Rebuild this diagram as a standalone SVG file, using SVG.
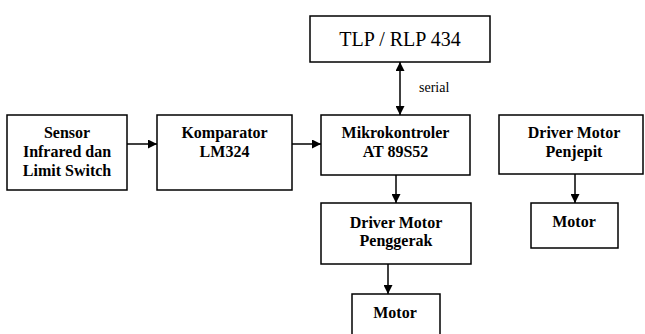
<svg xmlns="http://www.w3.org/2000/svg" width="645" height="334" viewBox="0 0 645 334">
<style>
.box{fill:#fff;stroke:#000;stroke-width:1.5}
text{font-family:'Liberation Serif','Times New Roman',Times,serif;fill:#000}
.t{font-weight:bold;font-size:16px;text-anchor:middle}
.n{font-size:20px;text-anchor:middle}
.s{font-size:14px}
.c{stroke:#000;stroke-width:1.5;fill:none}
</style>
<defs>
<marker id="ah" viewBox="0 0 10 10" refX="10" refY="5" markerWidth="9" markerHeight="9" orient="auto-start-reverse" markerUnits="userSpaceOnUse">
<path d="M0,0 L10,5 L0,10 z" fill="#000"/>
</marker>
</defs>
<rect width="645" height="334" fill="#fff"/>
<g id="connectors">
<line class="c" x1="127" y1="144" x2="157" y2="144" marker-end="url(#ah)"/>
<line class="c" x1="292" y1="144" x2="321" y2="144" marker-end="url(#ah)"/>
<line class="c" x1="400" y1="62" x2="400" y2="115" marker-start="url(#ah)" marker-end="url(#ah)"/>
<line class="c" x1="396" y1="175" x2="396" y2="203" marker-end="url(#ah)"/>
<line class="c" x1="388" y1="264" x2="388" y2="294" marker-end="url(#ah)"/>
<line class="c" x1="575" y1="174" x2="575" y2="203" marker-end="url(#ah)"/>
<text class="s" x="419" y="92" font-family="Liberation Serif">serial</text>
</g>
<g id="tlp">
<rect class="box" x="310" y="16" width="180" height="46"/>
<text class="n" x="400" y="46" font-family="Liberation Serif">TLP / RLP 434</text>
</g>
<g id="sensor">
<rect class="box" x="7" y="115" width="120" height="75"/>
<text class="t" x="67" y="138">Sensor</text>
<text class="t" x="67" y="157">Infrared dan</text>
<text class="t" x="67" y="176">Limit Switch</text>
</g>
<g id="komparator">
<rect class="box" x="157" y="115" width="135" height="75"/>
<text class="t" x="224.5" y="138">Komparator</text>
<text class="t" x="224.5" y="157">LM324</text>
</g>
<g id="mikro">
<rect class="box" x="321" y="115" width="149" height="60"/>
<text class="t" x="395.5" y="138">Mikrokontroler</text>
<text class="t" x="395.5" y="157">AT 89S52</text>
</g>
<g id="driver-penggerak">
<rect class="box" x="321" y="203" width="150" height="61"/>
<text class="t" x="396" y="228">Driver Motor</text>
<text class="t" x="396" y="246">Penggerak</text>
</g>
<g id="motor1">
<rect class="box" x="352" y="294" width="88" height="50"/>
<text class="t" x="395" y="318">Motor</text>
</g>
<g id="driver-penjepit">
<rect class="box" x="499" y="115" width="144" height="59"/>
<text class="t" x="574" y="138">Driver Motor</text>
<text class="t" x="574" y="157">Penjepit</text>
</g>
<g id="motor2">
<rect class="box" x="531" y="203" width="87" height="45"/>
<text class="t" x="574" y="227">Motor</text>
</g>
</svg>
